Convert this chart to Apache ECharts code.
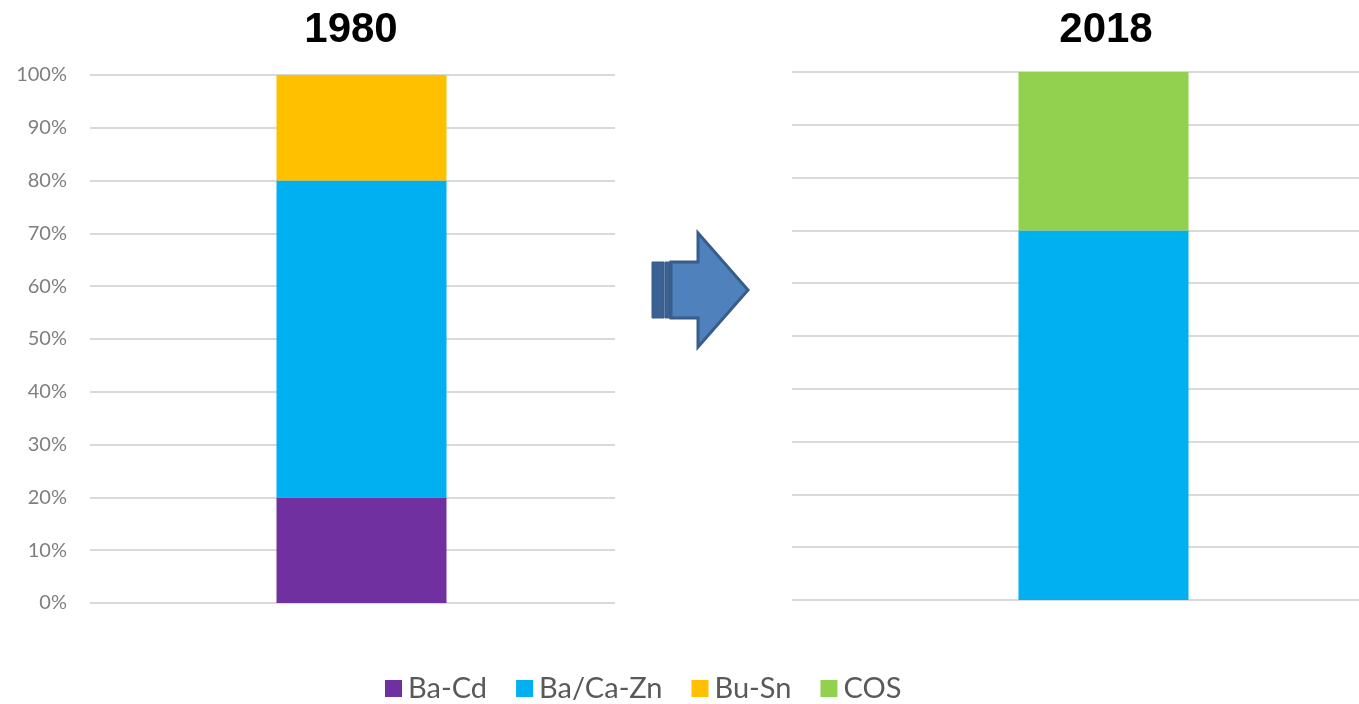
<!DOCTYPE html>
<html>
<head>
<meta charset="utf-8">
<title>Stabilizer share 1980 vs 2018</title>
<script src="https://cdn.jsdelivr.net/npm/echarts@6/dist/echarts.min.js"></script>
<style>
  html, body { margin: 0; padding: 0; background: #ffffff; }
  #chart { width: 1359px; height: 704px; }
</style>
</head>
<body>
<div id="chart"></div>
<script>
// Shares of stabilizer systems (percent of total)
const years = ['1980', '2018'];
const baCd = [20, null];
const baCaZn = [60, 70];
const buSn = [20, null];
const cos = [null, 30];
const tickValues = [0, 10, 20, 30, 40, 50, 60, 70, 80, 90, 100];

const colors = {
  'Ba-Cd': '#7030A0',
  'Ba/Ca-Zn': '#00B0F0',
  'Bu-Sn': '#FFC000',
  'COS': '#92D050'
};
const gridLineColor = '#d9d9d9';
const labelFont = 'Lato, "Liberation Sans", sans-serif';

const chart = echarts.init(document.getElementById('chart'), null, { renderer: 'canvas' });

// grids 0 and 2 carry the horizontal gridlines; grids 1 and 3 carry the bars
const grids = [
  { left: 90, right: 1359 - 615, top: 75, bottom: 101 },
  { left: 90, right: 1359 - 633, top: 75, bottom: 101 },
  { left: 792, right: 0, top: 72, bottom: 104 },
  { left: 848, right: 0, top: 72, bottom: 104 }
];

function lineAxisY(gridIndex, showLabels) {
  return {
    type: 'value', gridIndex, min: 0, max: 100, interval: 10,
    axisLine: { show: false }, axisTick: { show: false },
    splitLine: { show: true, lineStyle: { color: gridLineColor, width: 2 } },
    axisLabel: {
      show: showLabels, margin: 23, color: '#7f7f7f', fontSize: 20,
      fontFamily: labelFont,
      formatter: v => tickValues.includes(v) ? v + '%' : ''
    }
  };
}
function hiddenAxisY(gridIndex) {
  return {
    type: 'value', gridIndex, min: 0, max: 100,
    show: false, splitLine: { show: false }
  };
}
function catAxisX(gridIndex, cat) {
  return {
    type: 'category', gridIndex, data: [cat], show: false,
    splitLine: { show: false }
  };
}

function barSeries(name, values, idx, axisIndex) {
  return {
    name, type: 'bar', stack: 'share' + idx,
    xAxisIndex: axisIndex, yAxisIndex: axisIndex,
    barWidth: 170,
    itemStyle: { color: colors[name] },
    data: [values[idx]],
    silent: true
  };
}

const titleStyle = { fontSize: 42, fontWeight: 'bold', color: '#000000', fontFamily: '"Liberation Sans", sans-serif' };

const option = {
  backgroundColor: '#ffffff',
  animation: false,
  grid: grids,
  xAxis: [catAxisX(0, years[0]), catAxisX(1, years[0]), catAxisX(2, years[1]), catAxisX(3, years[1])],
  yAxis: [lineAxisY(0, true), hiddenAxisY(1), lineAxisY(2, false), hiddenAxisY(3)],
  title: [
    { text: years[0], left: 346, top: 4, textAlign: 'center', textStyle: titleStyle },
    { text: years[1], left: 1101, top: 4, textAlign: 'center', textStyle: titleStyle }
  ],
  legend: {
    data: ['Ba-Cd', 'Ba/Ca-Zn', 'Bu-Sn', 'COS'],
    left: 385, top: 674, padding: 0,
    icon: 'rect', itemWidth: 17, itemHeight: 17, itemGap: 29,
    selectedMode: false,
    textStyle: { fontSize: 29, color: '#595959', fontFamily: labelFont, padding: [0, 0, 0, 1] }
  },
  series: [
    barSeries('Ba-Cd', baCd, 0, 1),
    barSeries('Ba/Ca-Zn', baCaZn, 0, 1),
    barSeries('Bu-Sn', buSn, 0, 1),
    barSeries('Ba/Ca-Zn', baCaZn, 1, 3),
    barSeries('COS', cos, 1, 3),
    // empty series so the gridline grids get laid out
    { type: 'line', xAxisIndex: 0, yAxisIndex: 0, data: [], silent: true },
    { type: 'line', xAxisIndex: 2, yAxisIndex: 2, data: [], silent: true }
  ],
  graphic: [
    // block arrow between the two years
    { type: 'rect', shape: { x: 652, y: 262, width: 12, height: 56 },
      style: { fill: '#3A6194', stroke: '#375C8A', lineWidth: 1 } },
    { type: 'rect', shape: { x: 665, y: 262, width: 5, height: 56 },
      style: { fill: '#3A6194', stroke: '#375C8A', lineWidth: 1 } },
    { type: 'polygon',
      shape: { points: [[671, 262], [698, 262], [698, 233], [748, 290], [698, 347], [698, 318], [671, 318]] },
      style: { fill: '#4F81BD', stroke: '#385D8A', lineWidth: 3 } }
  ]
};

chart.setOption(option);
</script>
</body>
</html>
